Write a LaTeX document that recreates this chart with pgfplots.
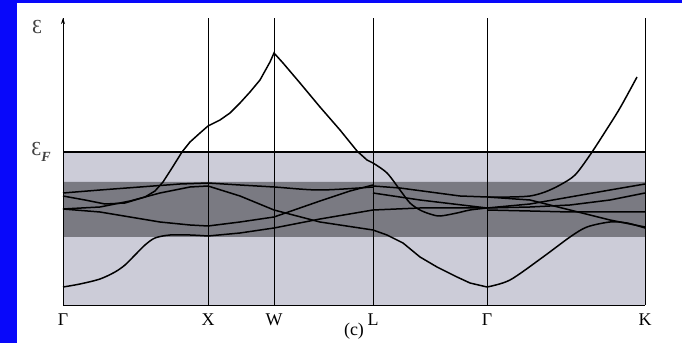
\documentclass[border=0pt]{standalone}
\usepackage{pgfplots}
\pgfplotsset{compat=1.18}
\usetikzlibrary{arrows.meta}
\usepackage{fontspec}
\setmainfont{Liberation Serif}
\definecolor{bgblue}{RGB}{8,8,250}
\definecolor{lightband}{RGB}{204,204,216}
\definecolor{darkband}{RGB}{122,122,130}
\begin{document}
\begin{tikzpicture}
\useasboundingbox (0,0) rectangle (341bp,171.5bp);
\clip (0,0) rectangle (341bp,171.5bp);
\fill[bgblue] (0,0) rectangle (341bp,171.5bp);
\fill[white] (8.5bp,0) rectangle (341bp,170bp);
\begin{axis}[
  at={(31.5bp,19bp)}, anchor=origin,
  scale only axis, width=291bp, height=143.5bp,
  xmin=0, xmax=582, ymin=0, ymax=287,
  axis x line*=bottom, axis y line=left,
  y axis line style={-{Stealth[length=3bp,width=2bp]}, line width=0.5bp},
  x axis line style={line width=0.5bp},
  xtick={0,145,211,310,424,582},
  xticklabels={Γ,X,W,L,Γ,K},
  ytick=\empty,
  major tick length=0pt,
  xmajorgrids, grid style={black, line width=0.45bp},
  xticklabel style={font=\fontsize{9}{10}\selectfont, yshift=-1bp},
  axis on top,
  clip=false,
  cycle list={{black, no markers, solid, smooth, tension=0.45}},
]
% bands
\addplot[draw=none, fill=lightband, sharp plot, no markers] coordinates {(0,0)(582,0)(582,153)(0,153)(0,0)};
\addplot[draw=none, fill=darkband, sharp plot, no markers] coordinates {(0,68)(582,68)(582,123)(0,123)(0,68)};
\addplot[black, line width=0.45bp, sharp plot, no markers] coordinates {(0,153)(582,153)};
\pgfplotsset{every axis plot post/.append style={line width=0.75bp}}
% Gamma -> X
\addplot coordinates {(0,18)(17,21)(37,26)(52,33)(62,40)(72,50)(82,60)(92,67)(107,70)(127,70)(145,69)};
\addplot coordinates {(0,112)(37,115)(77,118)(117,121)(145,122)};
\addplot coordinates {(0,109)(22,105)(42,101)(62,102)(82,108)(92,114)(100,123)(109,137)(119,153)(127,163)(137,172)(145,179)};
\addplot coordinates {(0,96)(37,98)(67,104)(97,112)(127,118)(145,119)};
\addplot coordinates {(0,96)(37,93)(67,88)(97,83)(127,80)(145,79)};
% X -> W -> L
\addplot coordinates {(145,122)(177,120)(211,118)(257,115)(310,118)};
\addplot coordinates {(145,119)(177,109)(211,95)(257,83)(310,75)};
\addplot coordinates {(145,79)(177,83)(211,88)(257,104)(287,114)(310,120)};
\addplot coordinates {(145,69)(177,72)(211,77)(257,86)(310,95)};
\addplot+[sharp plot] coordinates {(145,179)(157,185)(167,192)(177,202)(187,213)(197,225)(207,243)(211,252)(220,242)(237,222)(257,198)(277,175)(294,154)(304,145)(310,142)};
% L -> Gamma
\addplot coordinates {(310,142)(324,132)(337,115)(347,102)(357,95)(367,91)(377,89)(394,92)(407,95)(424,97)};
\addplot coordinates {(310,119)(337,117)(367,113)(397,109)(424,108)};
\addplot coordinates {(310,112)(357,105)(424,97)};
\addplot coordinates {(310,95)(357,97)(424,97)};
\addplot coordinates {(310,75)(324,70)(340,62)(357,48)(374,38)(394,28)(407,22)(424,18)};
% Gamma -> K
\addplot coordinates {(424,108)(447,108)(467,109)(482,113)(497,120)(512,130)(527,150)(542,173)(557,197)(574,228)};
\addplot coordinates {(424,108)(467,105)(507,95)(547,85)(582,78)};
\addplot coordinates {(424,97)(467,101)(507,108)(547,115)(582,121)};
\addplot coordinates {(424,97)(467,98)(507,100)(547,105)(582,112)};
\addplot coordinates {(424,95)(467,94)(507,93)(547,93)(582,93)};
\addplot coordinates {(424,18)(447,25)(480,48)(507,68)(524,78)(547,83)(564,82)(582,77)};
% labels
\node[font=\fontsize{10}{11}\selectfont, text=black!75] at (axis cs:0,278) [xshift=-13bp] {Ɛ};
\node[font=\fontsize{10}{11}\selectfont, text=black!75] at (axis cs:0,153) [xshift=-11bp] {Ɛ\raisebox{-0.6ex}{\fontsize{7}{8}\selectfont\itshape\bfseries F}};
\node[font=\fontsize{9}{10}\selectfont, anchor=south, inner sep=1bp] at (axis cs:291,0) [yshift=-18.5bp] {(c)};
\end{axis}
\end{tikzpicture}
\end{document}
